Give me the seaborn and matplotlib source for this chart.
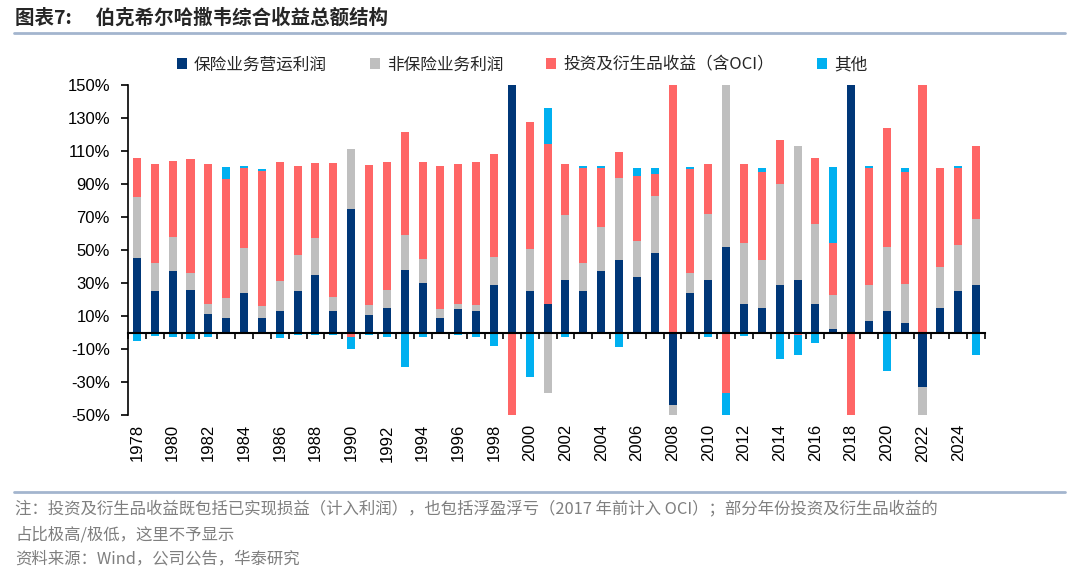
import numpy as np
import matplotlib
matplotlib.use("Agg")
import matplotlib.pyplot as plt
from matplotlib.patches import Patch
from matplotlib.lines import Line2D
import seaborn as sns

# Data (share of total comprehensive income, %)
years = list(range(1978, 2026))

insurance_uw = [45, 25, 37, 26, 11.5, 9, 24, 9, 13, 25,
                35, 13, 75, 10.5, 15, 38, 30, 9, 14, 13,
                28.5, 180, 25, 17.5, 32, 25, 37, 44, 33.5, 48,
                -44, 24, 32, 52, 17.5, 15, 28.5, 32, 17.5, 2,
                180, 7, 13, 5.5, -33, 15, 25, 28.5]

non_insurance = [37, 17, 21, 10, 6, 12, 27, 7, 18, 22,
                 22, 8.5, 36, 6, 11, 21, 14.5, 5, 3.5, 3.5,
                 17, 0, 25.5, -36.5, 39, 17, 27, 49.5, 22, 35,
                 -16, 12, 40, 120, 36.5, 29, 61.5, 81, 48.5, 20.5,
                 0, 21.5, 39, 24, -27, 24.5, 28, 40]

investment = [24, 60, 46, 69, 84.5, 72, 49, 82, 72.5, 54,
              45.5, 81, -3, 85, 77.5, 62.5, 59, 87, 84.5, 87,
              62.5, -80, 77, 97, 31, 58, 36, 16, 39.5, 13,
              160, 63, 30, -36.5, 48, 53, 26.5, -1.5, 40, 31.5,
              -80, 71.5, 72, 68, 160, 60.5, 47, 44.5]

other = [-5, -2, -3, -4, -2.5, 7, 1, 1, -3.5, -1.5,
         -1.5, -1.5, -7, -1.5, -2.5, -21, -2.5, -1, -1.5, -2.5,
         -8, 0, -27, 21.5, -2.5, 1, 1, -9, 5, 4,
         0, 1, -2.5, -35, -2, 2.5, -16, -12, -6.5, 46,
         0, 1, -23.5, 2.5, 0, -1, 1, -13.5]

series_names = ['保险业务营运利润', '非保险业务利润', '投资及衍生品收益（含OCI）', '其他']
series_colors = ['#003778', '#BFBFBF', '#FF6666', '#00B0F0']
y_ticks = list(range(-50, 151, 20))

sns.set_style("ticks")
plt.rcParams['font.family'] = ['Liberation Sans', 'Noto Sans CJK SC', 'DejaVu Sans']
cjk = ['Noto Sans CJK SC', 'DejaVu Sans']

fig = plt.figure(figsize=(10.8, 5.78), dpi=100)
ax = fig.add_axes([128 / 1080, 163 / 578, 857 / 1080, 330 / 578])

# stacked bars: positives stack up, negatives stack down
x = np.arange(len(years))
data = np.array([insurance_uw, non_insurance, investment, other], dtype=float)
pos_base = np.zeros(len(years))
neg_base = np.zeros(len(years))
for vals, name, color in zip(data, series_names, series_colors):
    base = np.where(vals >= 0, pos_base, neg_base)
    ax.bar(x, vals, width=0.45, bottom=base, color=color, label=name, linewidth=0)
    pos_base += np.clip(vals, 0, None)
    neg_base += np.clip(vals, None, 0)

ax.set_xlim(-0.5, len(years) - 0.5)
ax.set_ylim(-50, 150)
ax.set_yticks(y_ticks)
ax.set_yticklabels([f'{t}%' for t in y_ticks])

ax.spines[['top', 'right']].set_visible(False)
ax.spines['bottom'].set_position(('data', 0))
ax.spines['bottom'].set_linewidth(1.5)
ax.spines['left'].set_linewidth(1.2)
ax.spines['left'].set_color('black')
ax.spines['bottom'].set_color('black')

ax.set_xticks(x[::2])
ax.set_xticklabels([str(y) for y in years[::2]])
ax.set_xticks(np.arange(-0.5, len(years)), minor=True)
ax.tick_params(axis='x', which='major', length=0, pad=66, rotation=90,
               labelsize=12, colors='black')
ax.tick_params(axis='x', which='minor', length=4, width=1.2, direction='out',
               color='black')
ax.tick_params(axis='y', length=5, width=1.2, labelsize=12, pad=8,
               colors='black')

# legend
handles = [Patch(facecolor=c, edgecolor='none') for c in series_colors]
fig.legend(handles, series_names, loc='center', bbox_to_anchor=(522 / 1080, 1 - 65 / 578),
           ncol=4, frameon=False, handlelength=0.6, handleheight=0.6,
           handletextpad=0.4, columnspacing=2.6,
           prop={'family': cjk, 'size': 12})

# title and separators
fig.text(15 / 1080, 1 - 18 / 578, '图表7:\u3000 伯克希尔哈撒韦综合收益总额结构',
         fontsize=14, fontweight='bold', va='center', ha='left', family=cjk)
line_col = '#A3B5CE'
fig.add_artist(Line2D([14 / 1080, 1065 / 1080], [1 - 33 / 578] * 2, color=line_col, lw=2))
fig.add_artist(Line2D([14 / 1080, 1065 / 1080], [1 - 492 / 578] * 2, color=line_col, lw=2))

# footnotes
note_col = '#7F7F7F'
notes = ['注：投资及衍生品收益既包括已实现损益（计入利润），也包括浮盈浮亏（2017 年前计入 OCI）；部分年份投资及衍生品收益的',
         '占比极高/极低，这里不予显示',
         '资料来源：Wind，公司公告，华泰研究']
for txt, ypix in zip(notes, [509, 535, 559]):
    fig.text(15 / 1080, 1 - ypix / 578, txt, fontsize=11.8, color=note_col,
             va='center', ha='left', family=cjk)

fig.savefig('out.png', dpi=100)
